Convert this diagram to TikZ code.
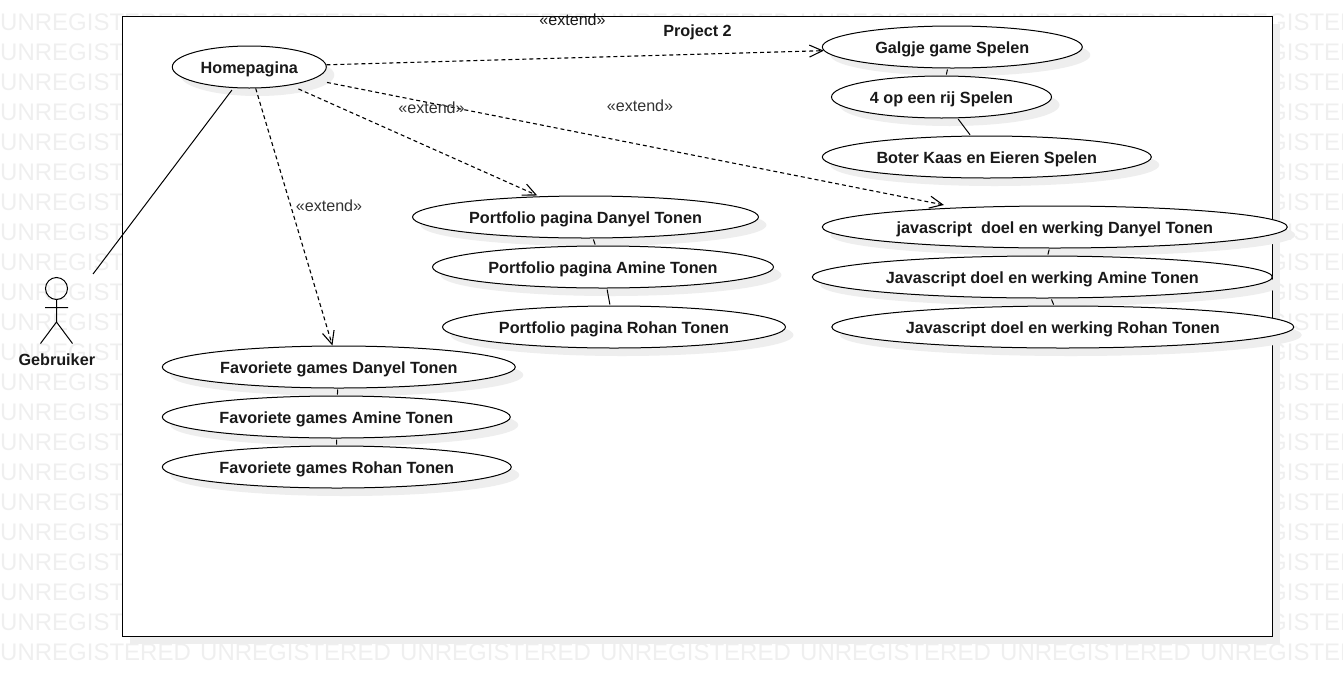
\documentclass[tikz,border=0pt]{standalone}
\usepackage{fontspec}
\setmainfont{Liberation Sans}
\usetikzlibrary{shapes.geometric,shadows,arrows.meta}
\definecolor{wmgrey}{HTML}{EFEFEF}
\definecolor{shadegrey}{HTML}{EEEEEE}
\definecolor{labelgrey}{HTML}{333333}
\tikzset{
  hardshadow/.style={copy shadow={shadow xshift=8pt,shadow yshift=-8pt,draw=none,fill=shadegrey}},
  usecase/.style={ellipse,draw=black,fill=white,line width=1pt,inner sep=0pt,hardshadow,
    text height=12pt,text depth=0pt,font=\fontsize{16.2}{19}\selectfont\bfseries,text=black!90},
  framebox/.style={rectangle,draw=black,fill=white,line width=1pt,inner sep=0pt,hardshadow},
  assoc/.style={draw=black,line width=1pt},
  extendline/.style={draw=black,line width=1.1pt,dash pattern=on 4pt off 3pt,
    -{Straight Barb[length=13pt,width=12pt,line width=1.1pt]}},
  stereo/.style={inner sep=0pt,font=\fontsize{16.1}{19}\selectfont,text=labelgrey},
  watermark/.style={anchor=base west,inner sep=0pt,font=\fontsize{24}{28}\selectfont,text=wmgrey},
  stickman/.style={draw=black,line width=1pt},
  boldlabel/.style={inner sep=0pt,font=\fontsize{16.2}{19}\selectfont\bfseries,text=black!90},
}
\begin{document}
\begin{tikzpicture}[x=1pt,y=-1pt]
\useasboundingbox (0,0) rectangle (1343,686);
\clip (0,0) rectangle (1343,686);
\foreach \cx in {0,200,...,1200}{
  \foreach \ry in {0,...,21}{
    \pgfmathsetmacro{\by}{30+30*\ry}
    \node[watermark] (wm-\cx-\ry) at (\cx,\by) {UNREGISTERED};
  }
}
\node[framebox,minimum width=1150pt,minimum height=620pt] (frame) at (697,326) {};
\node[boldlabel] (title) at (697.5,32) {Project 2};

% actor
\node[minimum width=77pt,minimum height=91pt,inner sep=0pt] (actor) at (56.5,322.5) {};
\node[circle,stickman,minimum size=22pt,inner sep=0pt] (head) at (56.5,288.5) {};
\coordinate (hip) at (56.5,322);
\coordinate (armL) at (45,307.5);
\coordinate (armR) at (68,307.5);
\coordinate (legL) at (40.5,343.5);
\coordinate (legR) at (72.5,343.5);
\draw[stickman] (head.south) -- (hip) (armL) -- (armR) (legL) -- (hip) -- (legR);
\node[boldlabel] (actorlabel) at (56.8,360) {Gebruiker};

% use cases
\node[usecase,minimum width=154pt,minimum height=42pt] (home) at (249.3,67) {Homepagina};
\node[usecase,minimum width=260pt,minimum height=42pt] (galgje) at (952.3,47) {Galgje game Spelen};
\node[usecase,minimum width=220pt,minimum height=42pt] (vier) at (941.5,97) {4 op een rij Spelen};
\node[usecase,minimum width=329pt,minimum height=42pt] (boter) at (986.8,157) {Boter Kaas en Eieren Spelen};
\node[usecase,minimum width=465pt,minimum height=42pt] (jsd) at (1054.8,227) {javascript\ \ doel en werking Danyel Tonen};
\node[usecase,minimum width=460pt,minimum height=42pt] (jsa) at (1042.3,277) {Javascript doel en werking Amine Tonen};
\node[usecase,minimum width=462pt,minimum height=42pt] (jsr) at (1062.8,327) {Javascript doel en werking Rohan Tonen};
\node[usecase,minimum width=346pt,minimum height=42pt] (pfd) at (585.5,217) {Portfolio pagina Danyel Tonen};
\node[usecase,minimum width=341pt,minimum height=42pt] (pfa) at (603,267) {Portfolio pagina Amine Tonen};
\node[usecase,minimum width=343pt,minimum height=42pt] (pfr) at (614,327) {Portfolio pagina Rohan Tonen};
\node[usecase,minimum width=353pt,minimum height=42pt] (favd) at (338.8,367) {Favoriete games Danyel Tonen};
\node[usecase,minimum width=348pt,minimum height=42pt] (fava) at (336.3,417) {Favoriete games Amine Tonen};
\node[usecase,minimum width=349pt,minimum height=42pt] (favr) at (336.8,467) {Favoriete games Rohan Tonen};

% associations
\draw[assoc,shorten <=3.5pt,shorten >=2.5pt] (actor) -- (home);
\draw[assoc,shorten <=1pt,shorten >=1pt] (galgje) -- (vier);
\draw[assoc,shorten <=1pt,shorten >=1pt] (vier) -- (boter);
\draw[assoc,shorten <=1pt,shorten >=1pt] (jsd) -- (jsa);
\draw[assoc,shorten <=1pt,shorten >=1pt] (jsa) -- (jsr);
\draw[assoc,shorten <=1pt,shorten >=1pt] (pfd) -- (pfa);
\draw[assoc,shorten <=1pt,shorten >=1pt] (pfa) -- (pfr);
\draw[assoc,shorten <=1pt,shorten >=1pt] (favd) -- (fava);
\draw[assoc,shorten <=1pt,shorten >=1pt] (fava) -- (favr);

% extends
\draw[extendline] (home) -- (galgje);
\draw[extendline,shorten <=9pt,shorten >=2pt] (home) -- (pfd);
\draw[extendline,shorten <=15pt,shorten >=13pt] (home) -- (jsd);
\draw[extendline] (home) -- (favd);

\node[stereo,text=black!90] (st1) at (572.5,19.5) {«extend»};
\node[stereo] (st2) at (431.5,107.5) {«extend»};
\node[stereo] (st3) at (640,105.5) {«extend»};
\node[stereo] (st4) at (329,205.5) {«extend»};
\end{tikzpicture}
\end{document}
